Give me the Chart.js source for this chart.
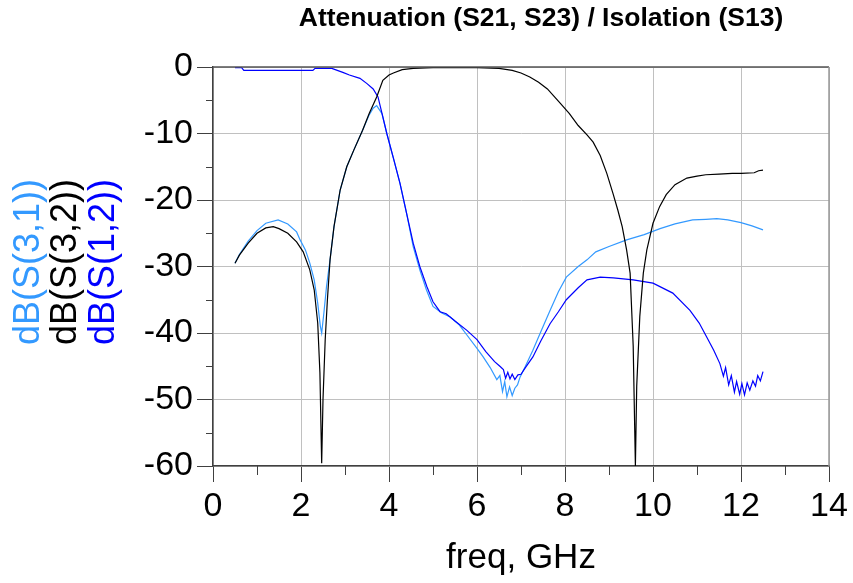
<!DOCTYPE html>
<html>
<head>
<meta charset="utf-8">
<script src="https://cdn.jsdelivr.net/npm/chart.js@4.4.1/dist/chart.umd.min.js"></script>
<style>
  html, body { margin: 0; padding: 0; background: #fff; }
</style>
</head>
<body>
<canvas id="myChart" width="853" height="583"></canvas>
<script>
// dB(S(3,1)) - light blue
const s31Freq = [0.5, 0.6, 0.8, 1.0, 1.2, 1.48, 1.7, 1.9, 1.98, 2.1, 2.2, 2.3, 2.38, 2.44, 2.47, 2.52, 2.58, 2.66, 2.75, 2.89, 3.04, 3.2, 3.4, 3.55, 3.64, 3.72, 3.84, 3.95, 4.1, 4.25, 4.4, 4.55, 4.7, 4.85, 5.0, 5.2, 5.39, 5.6, 5.77, 6.0, 6.14, 6.3, 6.45, 6.52, 6.58, 6.63, 6.68, 6.74, 6.8, 6.86, 6.92, 6.98, 7.1, 7.27, 7.45, 7.66, 7.85, 8.03, 8.3, 8.5, 8.7, 9.0, 9.4, 9.8, 10.16, 10.5, 10.9, 11.2, 11.45, 11.7, 12.0, 12.25, 12.5];
const s31Db = [-29.5, -28.2, -26.2, -24.6, -23.5, -23.0, -23.6, -24.8, -26.0, -27.5, -29.5, -32.0, -35.5, -39.0, -40.0, -37.0, -33.0, -29.0, -24.0, -18.5, -15.0, -12.5, -9.5, -7.2, -6.2, -5.8, -7.0, -10.0, -13.7, -17.5, -22.0, -27.0, -30.5, -33.5, -36.0, -37.0, -37.6, -38.8, -40.3, -42.3, -43.6, -45.2, -47.0, -46.4, -48.8, -47.3, -49.6, -48.1, -49.4, -48.3, -47.8, -46.6, -45.0, -42.6, -39.8, -36.6, -33.8, -31.6, -30.0, -29.0, -27.8, -27.0, -26.0, -25.2, -24.3, -23.6, -23.0, -22.9, -22.8, -23.0, -23.4, -23.9, -24.5];

// dB(S(3,2)) - black
const s32Freq = [0.5, 0.6, 0.8, 1.0, 1.2, 1.37, 1.5, 1.7, 1.9, 2.05, 2.2, 2.3, 2.38, 2.43, 2.47, 2.5, 2.55, 2.6, 2.66, 2.75, 2.89, 3.04, 3.2, 3.4, 3.55, 3.72, 3.86, 4.0, 4.1, 4.3, 4.55, 5.0, 5.5, 6.0, 6.5, 6.8, 7.0, 7.2, 7.4, 7.6, 7.9, 8.1, 8.3, 8.5, 8.64, 8.8, 8.95, 9.09, 9.2, 9.3, 9.4, 9.48, 9.55, 9.6, 9.63, 9.7, 9.78, 9.86, 10.0, 10.15, 10.3, 10.5, 10.77, 11.0, 11.2, 11.5, 11.8, 12.0, 12.3, 12.4, 12.5];
const s32Db = [-29.5, -28.3, -26.5, -25.0, -24.2, -24.0, -24.3, -25.0, -26.3, -27.8, -30.5, -33.5, -38.5, -46.0, -59.6, -50.0, -41.0, -35.0, -29.0, -24.0, -18.5, -15.0, -12.5, -9.5, -7.0, -4.5, -2.0, -1.2, -0.9, -0.4, -0.2, -0.1, -0.1, -0.1, -0.2, -0.5, -0.9, -1.5, -2.3, -3.3, -5.5, -7.0, -8.8, -10.2, -11.3, -13.3, -16.0, -19.0, -21.5, -24.0, -27.5, -31.0, -42.0, -60.0, -48.0, -37.5, -31.0, -27.5, -23.5, -21.0, -19.2, -17.7, -16.7, -16.4, -16.2, -16.1, -16.0, -16.0, -15.9, -15.6, -15.5];

// dB(S(1,2)) - blue
const s12Freq = [0.5, 0.65, 0.7, 1.0, 1.5, 2.0, 2.27, 2.32, 2.7, 2.95, 3.1, 3.34, 3.5, 3.64, 3.75, 3.86, 3.95, 4.1, 4.25, 4.4, 4.55, 4.7, 4.86, 5.0, 5.16, 5.3, 5.5, 5.77, 6.0, 6.2, 6.4, 6.52, 6.6, 6.65, 6.7, 6.75, 6.8, 6.86, 6.93, 7.0, 7.1, 7.27, 7.45, 7.66, 7.85, 8.03, 8.3, 8.5, 8.8, 9.1, 9.55, 10.0, 10.45, 10.84, 11.05, 11.22, 11.38, 11.52, 11.6, 11.65, 11.72, 11.78, 11.85, 11.9, 11.97, 12.02, 12.08, 12.14, 12.2, 12.27, 12.33, 12.38, 12.44, 12.5];
const s12Db = [-0.1, -0.1, -0.5, -0.5, -0.5, -0.5, -0.5, -0.2, -0.2, -0.8, -1.2, -1.7, -2.5, -3.3, -4.5, -7.5, -10.0, -13.7, -17.5, -22.0, -26.5, -30.0, -33.0, -35.3, -36.8, -37.1, -38.2, -39.6, -41.0, -42.8, -44.3, -45.0, -45.5, -46.8, -45.9, -46.9, -46.2, -47.0, -46.3, -46.2, -45.2, -43.6, -41.2, -38.6, -36.8, -35.0, -33.2, -32.0, -31.6, -31.7, -32.0, -32.5, -34.0, -36.6, -38.5, -40.6, -42.6, -44.6, -46.5, -45.2, -47.8, -46.4, -48.9, -47.3, -49.2, -47.6, -49.3, -47.5, -48.6, -47.2, -48.0, -46.4, -47.2, -45.8];

const xTicks = [0, 2, 4, 6, 8, 10, 12, 14];
const yTicks = [0, -10, -20, -30, -40, -50, -60];

const fontFamily = '"Liberation Sans", Arial, sans-serif';
const lightBlue = '#3399ff';
const darkBlue = '#0000ff';

function toPoints(xs, ys) {
    return xs.map((x, i) => ({ x: x, y: ys[i] }));
}

// title, y axis labels, minor ticks and frame
const overlay = {
    id: 'overlay',
    afterDraw(chart) {
        const c = chart.ctx;
        const area = chart.chartArea;
        const xs = chart.scales.x;
        const ys = chart.scales.y;
        c.save();

        // minor ticks
        c.strokeStyle = '#404040';
        c.lineWidth = 1;
        c.beginPath();
        for (let v = 1; v < 14; v += 2) {
            const px = Math.round(xs.getPixelForValue(v)) + 0.5;
            c.moveTo(px, area.bottom);
            c.lineTo(px, area.bottom + 9);
        }
        for (let v = -5; v > -60; v -= 10) {
            const py = Math.round(ys.getPixelForValue(v)) + 0.5;
            c.moveTo(area.left - 7, py);
            c.lineTo(area.left, py);
        }
        c.stroke();

        // frame
        c.strokeStyle = '#555';
        c.lineWidth = 1.5;
        c.beginPath();
        c.moveTo(area.left, area.top);
        c.lineTo(area.right, area.top);
        c.stroke();
        c.strokeStyle = '#999';
        c.beginPath();
        c.moveTo(area.right, area.top);
        c.lineTo(area.right, area.bottom);
        c.stroke();

        // title
        c.fillStyle = '#000';
        c.font = 'bold 26.5px ' + fontFamily;
        c.textAlign = 'center';
        c.textBaseline = 'middle';
        c.fillText('Attenuation (S21, S23) / Isolation (S13)', 541, 19);

        // coloured y axis labels
        const labels = [['dB(S(3,1))', lightBlue, 29], ['dB(S(3,2))', '#000', 66], ['dB(S(1,2))', darkBlue, 104]];
        c.font = '36px ' + fontFamily;
        labels.forEach(([text, color, x]) => {
            c.save();
            c.translate(x, 262);
            c.rotate(-Math.PI / 2);
            c.fillStyle = color;
            c.fillText(text, 0, 0);
            c.restore();
        });
        c.restore();
    }
};

const ctx = document.getElementById('myChart').getContext('2d');
const chart = new Chart(ctx, {
    type: 'line',
    data: {
        datasets: [
            {
                label: 'dB(S(3,2))',
                data: toPoints(s32Freq, s32Db),
                borderColor: '#000',
                borderWidth: 1.2,
                order: 1
            },
            {
                label: 'dB(S(1,2))',
                data: toPoints(s12Freq, s12Db),
                borderColor: darkBlue,
                borderWidth: 1.2,
                order: 2
            },
            {
                label: 'dB(S(3,1))',
                data: toPoints(s31Freq, s31Db),
                borderColor: lightBlue,
                borderWidth: 1.2,
                order: 3
            }
        ]
    },
    options: {
        responsive: false,
        animation: false,
        layout: { padding: { top: 67, right: 24, left: 0, bottom: 0 } },
        elements: { point: { radius: 0 }, line: { tension: 0, fill: false } },
        plugins: {
            legend: { display: false },
            tooltip: { enabled: false }
        },
        scales: {
            x: {
                type: 'linear',
                min: 0,
                max: 14,
                afterBuildTicks: (scale) => { scale.ticks = xTicks.map(v => ({ value: v })); },
                afterFit: (scale) => { scale.height = 117; },
                ticks: {
                    maxRotation: 0,
                    padding: 4,
                    color: '#000',
                    font: { family: fontFamily, size: 34 }
                },
                grid: { color: '#c0c0c0', tickColor: '#404040', tickLength: 16, lineWidth: 1 },
                border: { color: '#404040', width: 1.5 },
                title: {
                    display: true,
                    text: 'freq, GHz',
                    color: '#000',
                    font: { family: fontFamily, size: 35 },
                    padding: { top: 0, bottom: 4 }
                }
            },
            y: {
                type: 'linear',
                min: -60,
                max: 0,
                afterBuildTicks: (scale) => { scale.ticks = yTicks.map(v => ({ value: v })); },
                afterFit: (scale) => { scale.width = 213; },
                ticks: {
                    padding: 4,
                    color: '#000',
                    font: { family: fontFamily, size: 34 }
                },
                grid: { color: '#c0c0c0', tickColor: '#404040', tickLength: 16, lineWidth: 1 },
                border: { color: '#404040', width: 1.5 }
            }
        }
    },
    plugins: [overlay]
});
</script>
</body>
</html>
